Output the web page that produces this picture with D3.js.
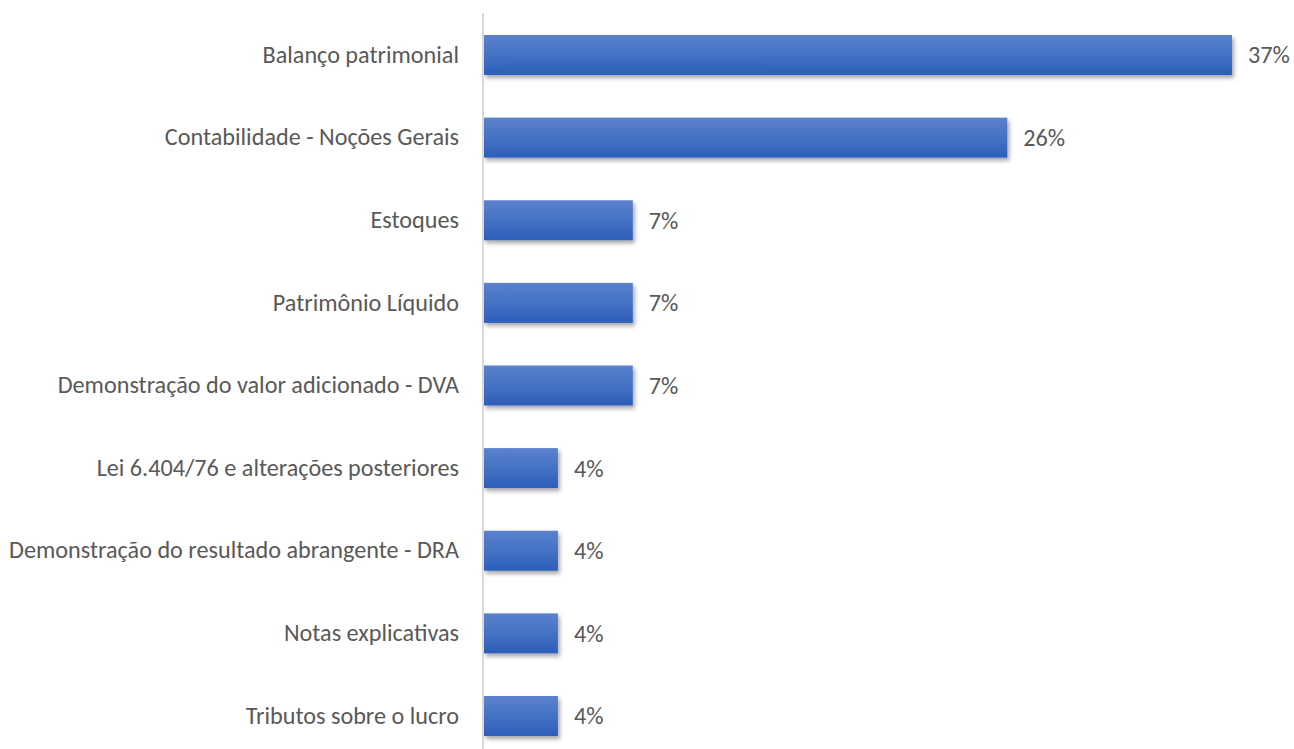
<!DOCTYPE html>
<html><head><meta charset="utf-8">
<script src="https://cdn.jsdelivr.net/npm/d3@7"></script>
<style>body{margin:0;background:#fff;} svg{display:block;}</style>
</head><body>
<svg id="c" width="1294" height="749"></svg>
<script>
const categories = ["Balanço patrimonial","Contabilidade - Noções Gerais","Estoques","Patrimônio Líquido","Demonstração do valor adicionado - DVA","Lei 6.404/76 e alterações posteriores","Demonstração do resultado abrangente - DRA","Notas explicativas","Tributos sobre o lucro"];
const values = [10/27, 7/27, 2/27, 2/27, 2/27, 1/27, 1/27, 1/27, 1/27];
const valueLabels = ["37%","26%","7%","7%","7%","4%","4%","4%","4%"];

const svg = d3.select("#c");
const x0 = 483;
const x = d3.scaleLinear().domain([0, 10/27]).range([x0, 1232]);
const y = d3.scaleBand().domain(categories).range([13.7, 757.3]).paddingInner(0.516).paddingOuter(0.258);

const defs = svg.append("defs");
const g = defs.append("linearGradient").attr("id","grad").attr("x1",0).attr("y1",0).attr("x2",0).attr("y2",1);
g.append("stop").attr("offset","0%").attr("stop-color","#5b81cd");
g.append("stop").attr("offset","50%").attr("stop-color","#4472c4");
g.append("stop").attr("offset","100%").attr("stop-color","#2d5eb9");
const f = defs.append("filter").attr("id","sh").attr("x","-10%").attr("y","-30%").attr("width","130%").attr("height","190%");
f.append("feDropShadow").attr("dx",2).attr("dy",3).attr("stdDeviation",2.2).attr("flood-color","#000").attr("flood-opacity",0.35);

const font = "Calibri, Carlito, 'Open Sans', sans-serif";

svg.append("g").selectAll("rect").data(categories).join("rect")
  .attr("x", x0 + 0.5)
  .attr("y", d => y(d))
  .attr("width", (d,i) => x(values[i]) - x0 - 0.5)
  .attr("height", y.bandwidth())
  .attr("fill","url(#grad)")
  .attr("filter","url(#sh)");

const axis = svg.append("g").attr("transform",`translate(${x0},0)`)
  .call(d3.axisLeft(y).tickSize(0).tickPadding(24));
axis.select(".domain").attr("stroke","#d9d9d9").attr("stroke-width",2).attr("d","M0,13V749");
axis.selectAll("text").attr("fill","#595959").style("font-family",font).style("font-size","18.5px");

// fit widest label to ~450px
let maxW = 0;
axis.selectAll("text").each(function(){ maxW = Math.max(maxW, this.getComputedTextLength()); });
const fs = 18.5 * 450 / maxW;
axis.selectAll("text").style("font-size", fs + "px");

svg.append("g").selectAll("text").data(categories).join("text")
  .attr("x", (d,i) => x(values[i]) + 16)
  .attr("y", d => y(d) + y.bandwidth()/2)
  .attr("dy","0.35em")
  .attr("fill","#595959")
  .style("font-family",font).style("font-size", fs + "px")
  .text((d,i) => valueLabels[i]);
</script>
</body></html>
